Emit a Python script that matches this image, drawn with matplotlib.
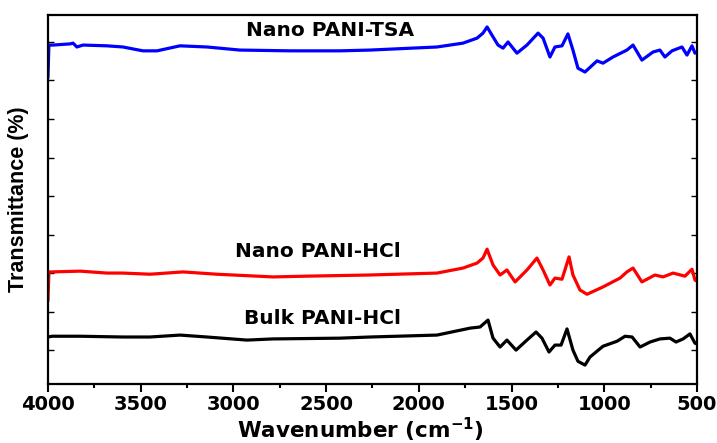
import matplotlib

matplotlib.use("Agg")
import matplotlib.pyplot as plt
from matplotlib.ticker import MultipleLocator

plt.rcParams["font.family"] = ["DejaVu Sans"]
plt.rcParams["font.weight"] = "bold"
plt.rcParams["mathtext.default"] = "bf"

# FTIR spectra, transmittance in arbitrary offset units
wn_tsa = [4000, 3995, 3973, 3881, 3865, 3844, 3811, 3682, 3596, 3488, 3412, 3288,
          3143, 2965, 2695, 2425, 2263, 1902, 1762, 1686, 1654, 1632, 1606, 1573,
          1546, 1519, 1471, 1417, 1357, 1330, 1293, 1266, 1228, 1196, 1169, 1142,
          1104, 1039, 1007, 953, 878, 845, 797, 737, 700, 673, 635, 581, 554, 527,
          511, 500]
t_tsa = [8.09, 8.92, 8.92, 8.95, 8.97, 8.87, 8.92, 8.90, 8.87, 8.77, 8.77, 8.90,
         8.87, 8.79, 8.77, 8.77, 8.79, 8.87, 8.97, 9.10, 9.23, 9.39, 9.18, 8.92,
         8.84, 9.00, 8.71, 8.92, 9.23, 9.10, 8.61, 8.87, 8.90, 9.21, 8.79, 8.32,
         8.22, 8.51, 8.45, 8.61, 8.79, 8.92, 8.53, 8.74, 8.79, 8.61, 8.77, 8.87,
         8.66, 8.90, 8.71, 8.74]

wn_hcl = [4000, 3995, 3978, 3827, 3682, 3596, 3450, 3272, 3089, 2787, 2603, 2263,
          1902, 1762, 1686, 1654, 1632, 1600, 1562, 1525, 1481, 1417, 1363, 1330,
          1293, 1266, 1228, 1190, 1169, 1131, 1093, 1007, 915, 878, 845, 797, 727,
          683, 629, 565, 527, 511, 500]
t_hcl = [2.30, 3.03, 3.03, 3.05, 3.00, 3.00, 2.97, 3.03, 2.97, 2.90, 2.92, 2.95,
         3.00, 3.13, 3.26, 3.39, 3.62, 3.21, 2.95, 3.08, 2.77, 3.08, 3.39, 3.08,
         2.69, 2.87, 2.84, 3.42, 2.95, 2.56, 2.45, 2.64, 2.87, 3.03, 3.13, 2.77,
         2.95, 2.90, 3.00, 2.92, 3.10, 2.82, 2.79]

wn_bulk = [4000, 3978, 3827, 3596, 3450, 3288, 3143, 2927, 2787, 2425, 2263, 1902,
           1724, 1670, 1627, 1600, 1562, 1525, 1476, 1417, 1368, 1336, 1298, 1266,
           1233, 1201, 1169, 1142, 1104, 1077, 1007, 931, 888, 850, 807, 753, 700,
           646, 613, 575, 538, 511, 500]
t_bulk = [1.34, 1.36, 1.36, 1.34, 1.34, 1.39, 1.34, 1.26, 1.29, 1.31, 1.34, 1.39,
          1.57, 1.60, 1.78, 1.31, 1.08, 1.26, 1.00, 1.26, 1.47, 1.31, 0.95, 1.13,
          1.13, 1.55, 1.00, 0.71, 0.61, 0.82, 1.10, 1.23, 1.36, 1.34, 1.08, 1.21,
          1.29, 1.31, 1.21, 1.29, 1.42, 1.18, 1.16]

series = [
    (wn_tsa, t_tsa, "#0000ff", "Nano PANI-TSA", 2479, 9.31),
    (wn_hcl, t_hcl, "#ff0000", "Nano PANI-HCl", 2544, 3.55),
    (wn_bulk, t_bulk, "#000000", "Bulk PANI-HCl", 2522, 1.83),
]

fig = plt.figure(figsize=(7.17, 4.43), dpi=100)
ax = fig.add_axes([0.0669, 0.1332, 0.9052, 0.8329])

for wn, t, color, name, lx, ly in series:
    ax.plot(wn, t, color=color, linewidth=2.3, solid_joinstyle="round")
    ax.text(lx, ly, name, ha="center", va="center", fontsize=14.5, fontweight="bold")

ax.set_xlim(4000, 500)
ax.set_ylim(0.12, 9.70)
ax.xaxis.set_major_locator(MultipleLocator(500))
ax.xaxis.set_minor_locator(MultipleLocator(250))
ax.yaxis.set_major_locator(MultipleLocator(1))
ax.set_yticklabels([])

ax.tick_params(axis="x", which="major", direction="out", length=6, width=1.5,
               labelsize=14, pad=2)
ax.tick_params(axis="x", which="minor", direction="out", length=3, width=1.5)
ax.tick_params(axis="y", which="major", direction="in", length=4, width=1,
               left=True, right=True)
for label in ax.get_xticklabels():
    label.set_fontweight("bold")
for spine in ax.spines.values():
    spine.set_linewidth(1.6)

ax.set_xlabel("Wavenumber (cm$^{\\mathbf{-1}}$)", fontsize=15.5, fontweight="bold")
ax.xaxis.set_label_coords(0.481, -0.086)
# the vertical label is narrower, so it keeps an Arial-metric face
ax.set_ylabel("Transmittance (%)", fontsize=15.5, fontweight="bold", labelpad=10,
              family=["Liberation Sans", "DejaVu Sans"])

fig.savefig("out.png", dpi=100)
